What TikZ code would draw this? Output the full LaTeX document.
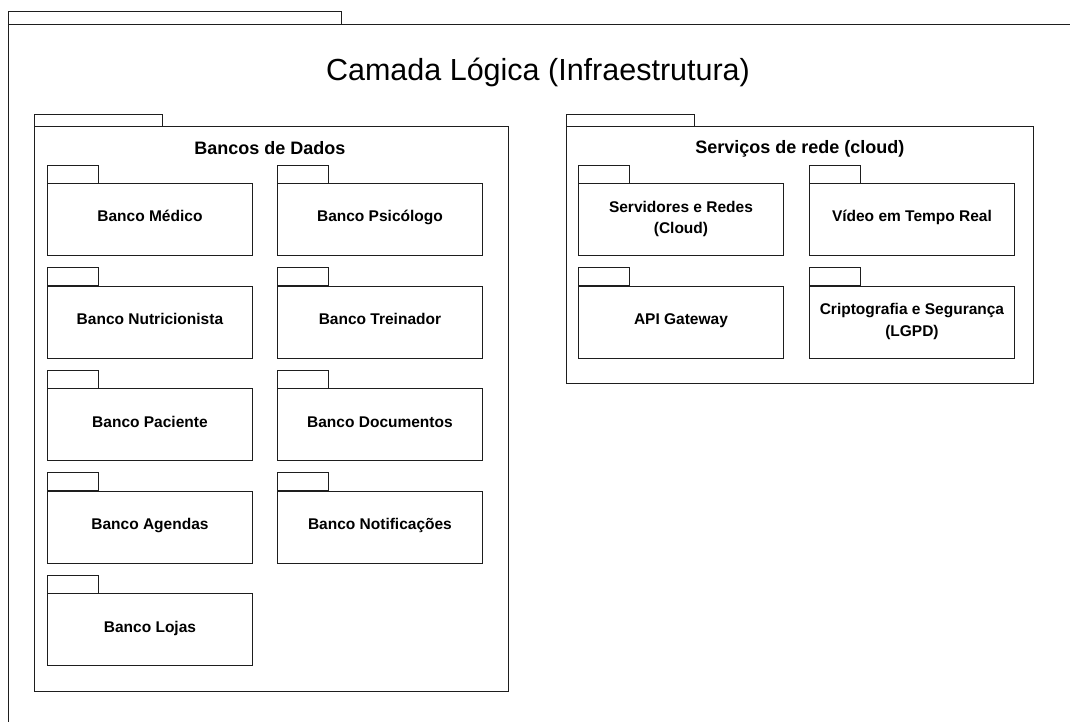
\documentclass[tikz,border=0pt]{standalone}
\usepackage{fontspec}
\setmainfont{Liberation Sans}
\definecolor{linec}{RGB}{30,30,30}

% package body (rectangle) of a given width and height
\tikzset{
  pkgline/.style={draw=linec, line width=0.9pt},
  pkgbody/.style 2 args={pkgline, fill=white, inner sep=0pt, anchor=north west,
    minimum width=#1, minimum height=#2},
  childbody/.style={pkgbody={205}{72}},
  childlbl/.style={font=\fontsize{15.5}{21.7}\selectfont\bfseries, inner sep=0pt, align=center},
  heading/.style={font=\fontsize{18}{21}\selectfont\bfseries, inner sep=0pt, anchor=base},
  bigtitle/.style={font=\fontsize{30.5}{36}\selectfont, inner sep=0pt, anchor=base},
}

% child package with a one-line label: name, x, tab top, label
\newcommand\childpkg[4]{%
  \node[childbody] (#1) at (#2,#3+18) {};
  \draw[pkgline] (#1.north west) rectangle ++(51,-18);
  \node[childlbl, anchor=base] (#1-lbl) at ([yshift=-38.7pt]#1.north) {#4};
}
% child package with a two-line label
\newcommand\childpkgtwo[4]{%
  \node[childbody] (#1) at (#2,#3+18) {};
  \draw[pkgline] (#1.north west) rectangle ++(51,-18);
  \node[childlbl, anchor=center] (#1-lbl) at ([yshift=0.5pt]#1.center) {#4};
}

\begin{document}
\begin{tikzpicture}[x=1pt, y=-1pt]
  \useasboundingbox (0,0) rectangle (1070,722);
  \clip (0,0) rectangle (1070,722);
  \fill[white] (0,0) rectangle (1070,722);

  % outer layer package
  \node[pkgbody={1100}{760}] (layer) at (8,24) {};
  \draw[pkgline] (layer.north west) rectangle ++(333.5,-13);
  \node[bigtitle] (layer-title) at (538,81) {Camada Lógica (Infraestrutura)};

  % databases package
  \node[pkgbody={474}{564.5}] (bd) at (34,126.5) {};
  \draw[pkgline] (bd.north west) rectangle ++(128.5,-12.5);
  \node[heading] (bd-title) at ([xshift=-1.5pt, yshift=-28pt]bd.north) {Bancos de Dados};

  \childpkg{medico}{47}{165}{Banco Médico}
  \childpkg{psicologo}{277}{165}{Banco Psicólogo}
  \childpkg{nutri}{47}{267.7}{Banco Nutricionista}
  \childpkg{treinador}{277}{267.7}{Banco Treinador}
  \childpkg{paciente}{47}{370.3}{Banco Paciente}
  \childpkg{documentos}{277}{370.3}{Banco Documentos}
  \childpkg{agendas}{47}{472.7}{Banco Agendas}
  \childpkg{notif}{277}{472.7}{Banco Notificações}
  \childpkg{lojas}{47}{575.3}{Banco Lojas}

  % network services package
  \node[pkgbody={467}{256.5}] (net) at (566,126.5) {};
  \draw[pkgline] (net.north west) rectangle ++(128,-12.5);
  \node[heading] (net-title) at ([yshift=-27.5pt]net.north) {Serviços de rede (cloud)};

  \childpkgtwo{servidores}{578}{165}{Servidores e Redes\\(Cloud)}
  \childpkg{video}{809}{165}{Vídeo em Tempo Real}
  \childpkg{gateway}{578}{267.7}{API Gateway}
  \childpkgtwo{cripto}{809}{267.7}{Criptografia e Segurança\\(LGPD)}
\end{tikzpicture}
\end{document}
